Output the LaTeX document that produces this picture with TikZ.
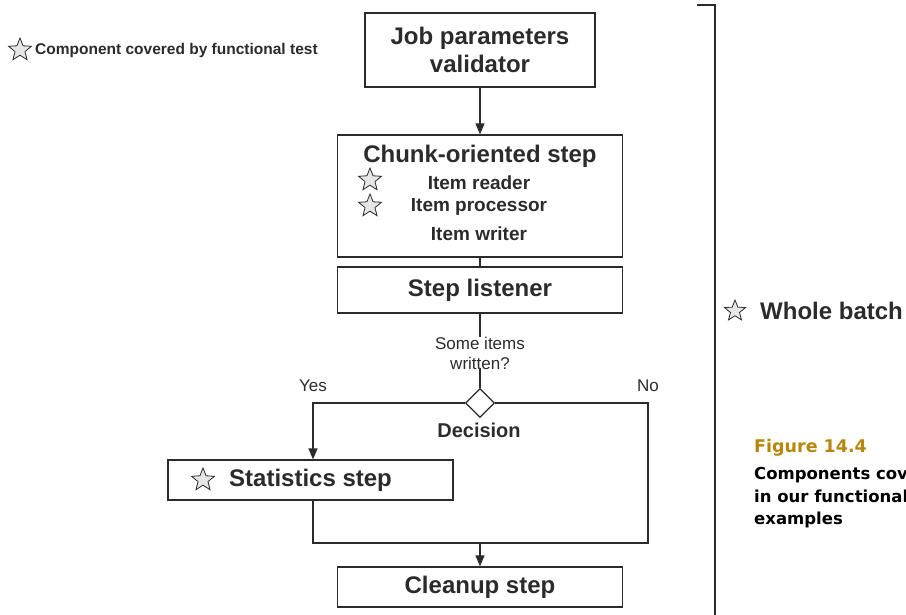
\documentclass[tikz,border=0pt]{standalone}
\usepackage{fontspec}
\setmainfont{Liberation Sans}
\newfontfamily\capfont{DejaVu Sans}
\usetikzlibrary{shapes.geometric,arrows.meta}
\definecolor{ink}{HTML}{2B2B2B}
\definecolor{starfill}{HTML}{E6E6E6}
\definecolor{figgold}{HTML}{B8860B}
\begin{document}
\begin{tikzpicture}[x=1pt,y=-1pt,
  box/.style={draw=ink,line width=1.3pt,inner sep=0pt,text=ink,font=\bfseries\fontsize{24}{28}\selectfont,align=center},
  conn/.style={draw=ink,line width=1.3pt},
  arr/.style={conn,-{Triangle[length=11pt,width=9pt]}},
  starmark/.style={star,star points=5,star point ratio=2.3,draw=ink,fill=starfill,line width=0.8pt,minimum size=#1,inner sep=0pt},
  starmark/.default=24pt,
  itemtxt/.style={text=ink,font=\bfseries\fontsize{19}{22}\selectfont,inner sep=0pt},
  lbl/.style={text=ink,font=\fontsize{17}{20}\selectfont,inner sep=0pt,align=center},
  captxt/.style={anchor=base west,text=black,font=\capfont\bfseries\fontsize{16.5}{20}\selectfont,inner sep=0pt}
  ]
\useasboundingbox (0,0) rectangle (906,615);
% legend
\node[starmark] (ls) at (20,50) {};
\node[anchor=west,text=ink,font=\bfseries\fontsize{15.5}{18}\selectfont,inner sep=0pt] (lt) at (35,50) {Component covered by functional test};
% boxes
\node[box,minimum width=230pt,minimum height=74pt] (jpv) at (480,50) {Job parameters\\[0pt]validator};
\node[box,minimum width=285pt,minimum height=122pt] (cos) at (480,196) {};
\node[text=ink,font=\bfseries\fontsize{24}{28}\selectfont,inner sep=0pt] (cost) at (480,156) {Chunk-oriented step};
\node[itemtxt] (ir) at (479,183) {Item reader};
\node[itemtxt] (ip) at (479,207) {Item processor};
\node[itemtxt] (iw) at (479,234) {Item writer};
\node[starmark] (s1) at (370,180) {};
\node[starmark] (s2) at (370,206) {};
\node[box,minimum width=285pt,minimum height=46pt] (sl) at (480,290) {Step listener};
\node[lbl] (q) at (480,353) {Some items\\written?};
\node[diamond,draw=ink,line width=1.2pt,fill=white,minimum size=29pt,inner sep=0pt] (dec) at (480,403) {};
\node[text=ink,font=\bfseries\fontsize{20}{24}\selectfont,inner sep=0pt] (dect) at (479,430) {Decision};
\node[lbl] (yes) at (313,386) {Yes};
\node[lbl] (no) at (648,386) {No};
\node[box,minimum width=285pt,minimum height=40pt] (ss) at (310.5,480) {};
\node[anchor=west,text=ink,font=\bfseries\fontsize{24}{28}\selectfont,inner sep=0pt] (sst) at (229,480) {Statistics step};
\node[starmark] (s3) at (203,480) {};
\node[box,minimum width=285pt,minimum height=40pt] (cl) at (480,587) {Cleanup step};
% connectors
\draw[arr] (jpv.south) -- (cos.north);
\draw[conn] (cos.south) -- (sl.north);
\draw[conn] (sl.south) -- (q.north);
\draw[conn] (q.south) -- (dec.north);
\coordinate (yx) at (313,403);
\coordinate (nx) at (648,403);
\coordinate (mj) at (480,543);
\draw[arr] (dec.west) -- (yx) -- (yx |- ss.north);
\draw[conn] (dec.east) -- (nx) -- (nx |- mj) -- (313,543) -- (313,500);
\draw[arr] (mj) -- (cl.north);
% bracket
\coordinate (bt) at (697,5);
\coordinate (bc) at (715,5);
\coordinate (bb) at (715,620);
\draw[draw=ink,line width=1.2pt] (bt) -- (bc) -- (bb);
\node[starmark=22pt] (s4) at (735,311) {};
\node[anchor=west,text=ink,font=\bfseries\fontsize{24}{28}\selectfont,inner sep=0pt] (wb) at (760,311) {Whole batch};
% caption
\node[anchor=base west,text=figgold,font=\capfont\bfseries\fontsize{17.5}{20}\selectfont,inner sep=0pt] (fig) at (754,452) {Figure 14.4};
\node[captxt] (cap1) at (754,479) {Components covered};
\node[captxt] (cap2) at (754,502) {in our functional};
\node[captxt] (cap3) at (754,524) {examples};
\end{tikzpicture}
\end{document}
